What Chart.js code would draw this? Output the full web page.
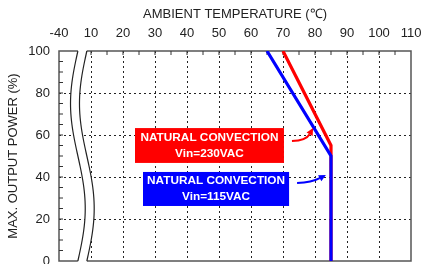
<!DOCTYPE html>
<html>
<head>
<meta charset="utf-8">
<script src="https://cdn.jsdelivr.net/npm/chart.js@4.4.0/dist/chart.umd.min.js"></script>
<style>
  html, body { margin: 0; padding: 0; overflow: hidden; background: #fff; width: 423px; height: 264px; }
</style>
</head>
<body>
<canvas id="chart" width="423" height="272"></canvas>
<script>
// top axis: 0 on the scale stands for -40 (axis is broken between -40 and 10)
const tempValues = [0, 10, 20, 30, 40, 50, 60, 70, 80, 90, 100, 110];
const tempLabels = ['-40', '10', '20', '30', '40', '50', '60', '70', '80', '90', '100', '110'];
const powerTicks = [0, 20, 40, 60, 80, 100];

const blueTemp = [65, 85, 85];
const bluePower = [100, 50, 0];
const redTemp = [70, 85, 85];
const redPower = [100, 55, 0];

const FONT = '"Liberation Sans", Arial, sans-serif';
const toPoints = (xs, ys) => xs.map((x, i) => ({ x, y: ys[i] }));

const frame = {
  id: 'frame',
  beforeDatasetsDraw(chart) {
    const { ctx, chartArea: ca, scales: { x, y } } = chart;
    ctx.save();
    // box
    ctx.strokeStyle = '#555';
    ctx.lineWidth = 1.5;
    ctx.strokeRect(ca.left, ca.top, ca.right - ca.left, ca.bottom - ca.top);
    // minor ticks, top and left
    ctx.lineWidth = 1;
    ctx.strokeStyle = '#333';
    ctx.beginPath();
    for (let v = 10; v < 110; v += 5) {
      const px = x.getPixelForValue(v);
      ctx.moveTo(px, ca.top); ctx.lineTo(px, ca.top + 4);
    }
    for (let v = 5; v < 100; v += 5) {
      const py = y.getPixelForValue(v);
      ctx.moveTo(ca.left, py); ctx.lineTo(ca.left + 4, py);
    }
    ctx.stroke();
    // axis break
    const unit = x.getPixelForValue(1) - x.getPixelForValue(0);
    const cx = x.getPixelForValue(5.9), amp = 2.3 * unit, gap = 2.8 * unit;
    const h = ca.bottom - ca.top;
    const curveX = t => cx - amp * Math.sin(2 * Math.PI * t);
    const N = 60;
    ctx.beginPath();
    for (let i = 0; i <= N; i++) {
      const t = i / N;
      ctx.lineTo(curveX(t), ca.top + t * h);
    }
    ctx.lineTo(curveX(1), ca.bottom + 2);
    ctx.lineTo(curveX(1) + gap, ca.bottom + 2);
    for (let i = N; i >= 0; i--) {
      const t = i / N;
      ctx.lineTo(curveX(t) + gap, ca.top + t * h);
    }
    ctx.lineTo(curveX(0) + gap, ca.top - 2);
    ctx.lineTo(curveX(0), ca.top - 2);
    ctx.closePath();
    ctx.fillStyle = '#fff';
    ctx.fill();
    ctx.strokeStyle = '#222';
    ctx.lineWidth = 1.2;
    for (const off of [0, gap]) {
      ctx.beginPath();
      for (let i = 0; i <= N; i++) {
        const t = i / N;
        ctx.lineTo(curveX(t) + off, ca.top + t * h);
      }
      ctx.stroke();
    }
    ctx.restore();
  },
  afterDatasetsDraw(chart) {
    const { ctx, scales: { x, y } } = chart;
    const box = (x0, x1, y0, y1, color, lines) => {
      const l = x.getPixelForValue(x0), r = x.getPixelForValue(x1);
      const t = y.getPixelForValue(y0), b = y.getPixelForValue(y1);
      ctx.fillStyle = color;
      ctx.fillRect(l, t, r - l, b - t);
      ctx.fillStyle = '#fff';
      ctx.font = 'bold 11.8px ' + FONT;
      ctx.textAlign = 'center';
      ctx.textBaseline = 'middle';
      const mid = (l + r) / 2, cy = (t + b) / 2;
      ctx.fillText(lines[0], mid, cy - 8);
      ctx.fillText(lines[1], mid, cy + 8);
    };
    const arrow = (p0, p1, p2, color) => {
      const a = { x: x.getPixelForValue(p0[0]), y: y.getPixelForValue(p0[1]) };
      const c = { x: x.getPixelForValue(p1[0]), y: y.getPixelForValue(p1[1]) };
      const d = { x: x.getPixelForValue(p2[0]), y: y.getPixelForValue(p2[1]) };
      const ang = Math.atan2(d.y - c.y, d.x - c.x);
      const len = 7, wid = 3.5;
      const bx = d.x - len * Math.cos(ang), by = d.y - len * Math.sin(ang);
      ctx.strokeStyle = color;
      ctx.lineWidth = 2;
      ctx.beginPath();
      ctx.moveTo(a.x, a.y);
      ctx.quadraticCurveTo(c.x, c.y, bx, by);
      ctx.stroke();
      ctx.fillStyle = color;
      ctx.beginPath();
      ctx.moveTo(d.x, d.y);
      ctx.lineTo(bx + wid * Math.sin(ang), by - wid * Math.cos(ang));
      ctx.lineTo(bx - wid * Math.sin(ang), by + wid * Math.cos(ang));
      ctx.closePath();
      ctx.fill();
    };
    ctx.save();
    box(23.75, 70.3, 63.3, 46.7, '#ff0000', ['NATURAL CONVECTION', 'Vin=230VAC']);
    box(26.25, 71.9, 42.4, 26.2, '#0000ff', ['NATURAL CONVECTION', 'Vin=115VAC']);
    arrow([72.8, 57.1], [77.2, 57.4], [79.4, 63.3], '#ff0000');
    arrow([74.4, 37.1], [79.0, 37.4], [83.4, 41], '#0000ff');
    ctx.restore();
  }
};

new Chart(document.getElementById('chart'), {
  type: 'line',
  data: {
    datasets: [
      {
        label: 'Vin=115VAC',
        data: toPoints(blueTemp, bluePower),
        borderColor: '#0000ff',
        borderWidth: 3.2,
        pointRadius: 0,
        tension: 0
      },
      {
        label: 'Vin=230VAC',
        data: toPoints(redTemp, redPower),
        borderColor: '#ff0000',
        borderWidth: 3.2,
        pointRadius: 0,
        tension: 0
      }
    ]
  },
  options: {
    responsive: false,
    animation: false,
    layout: { padding: { left: 0, right: 12, top: 0, bottom: 11 } },
    plugins: { legend: { display: false }, tooltip: { enabled: false } },
    scales: {
      x: {
        type: 'linear',
        position: 'top',
        min: 0,
        max: 110,
        afterBuildTicks: s => { s.ticks = tempValues.map(v => ({ value: v })); },
        afterFit: s => { s.height = 51; s.paddingLeft = 0; s.paddingRight = 0; },
        ticks: {
          padding: 10,
          color: '#222',
          font: { family: FONT, size: 13 },
          maxRotation: 0,
          callback: (v, i) => tempLabels[i]
        },
        grid: {
          drawTicks: false,
          color: c => (c.tick && (c.tick.value === 0 || c.tick.value === 110)) ? 'rgba(0,0,0,0)' : '#222',
          lineWidth: 1
        },
        border: { display: false, dash: [2, 3] },
        title: {
          display: true,
          text: 'AMBIENT TEMPERATURE (℃)',
          color: '#222',
          font: { family: FONT, size: 13 },
          padding: { top: 7, bottom: 0 }
        }
      },
      y: {
        type: 'linear',
        min: 0,
        max: 100,
        afterBuildTicks: s => { s.ticks = powerTicks.map(v => ({ value: v })); },
        afterFit: s => { s.width = 59; s.paddingTop = 0; s.paddingBottom = 0; },
        ticks: {
          padding: 9,
          color: '#222',
          font: { family: FONT, size: 13 }
        },
        grid: {
          drawTicks: false,
          color: c => (c.tick && (c.tick.value === 0 || c.tick.value === 100)) ? 'rgba(0,0,0,0)' : '#222',
          lineWidth: 1
        },
        border: { display: false, dash: [2, 3] },
        title: {
          display: true,
          text: 'MAX. OUTPUT POWER (%)',
          color: '#222',
          font: { family: FONT, size: 13 },
          padding: { top: 6, bottom: 0 }
        }
      }
    }
  },
  plugins: [frame]
});
</script>
</body>
</html>
